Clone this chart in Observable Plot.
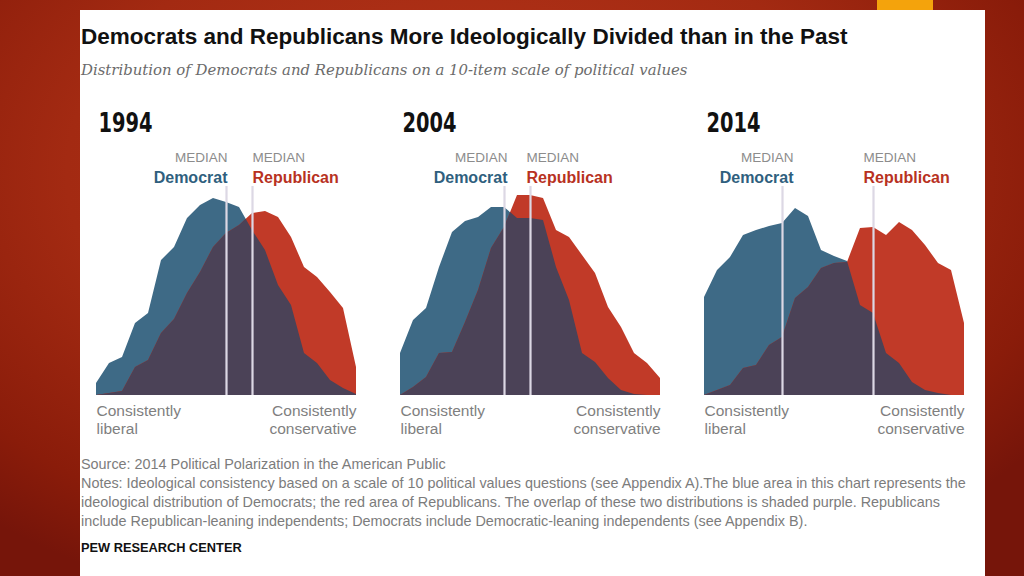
<!DOCTYPE html>
<html>
<head>
<meta charset="utf-8">
<script src="https://cdn.jsdelivr.net/npm/d3@7"></script>
<script src="https://cdn.jsdelivr.net/npm/@observablehq/plot@0.6"></script>
<style>
  html, body { margin: 0; padding: 0; }
  body {
    width: 1024px; height: 576px; overflow: hidden; position: relative;
    background: radial-gradient(ellipse 70% 80% at 45% 30%, #b9361b 0%, #a32a12 55%, #8a1c0a 85%, #76150a 100%);
    font-family: "Liberation Sans", Arial, sans-serif;
  }
  #orange { position: absolute; left: 877px; top: 0; width: 56px; height: 10px; background: #f4a30c; }
  #panel { position: absolute; left: 80px; top: 10px; width: 905px; height: 580px; background: #fff; }
  .abs { position: absolute; white-space: nowrap; }
  #title { left: 81px; top: 23px; font-size: 22.5px; line-height: 28px; font-weight: bold; color: #111; }
  #subtitle { left: 81px; top: 59px; font-family: "DejaVu Serif", Georgia, serif; font-style: italic; font-size: 14.9px; line-height: 22px; color: #6b6b6b; }
  #chart { position: absolute; left: 0; top: 100px; }
  #notes { left: 81px; top: 455px; font-size: 14.4px; line-height: 19px; color: #7c7c7c; }
  #pew { left: 81px; top: 540px; font-size: 12.8px; line-height: 16px; font-weight: bold; color: #111; }
</style>
</head>
<body>
<div id="orange"></div>
<div id="panel"></div>
<div id="title" class="abs">Democrats and Republicans More Ideologically Divided than in the Past</div>
<div id="subtitle" class="abs">Distribution of Democrats and Republicans on a 10-item scale of political values</div>
<div id="chart"></div>
<div id="notes" class="abs">Source: 2014 Political Polarization in the American Public<br>Notes: Ideological consistency based on a scale of 10 political values questions (see Appendix A).The blue area in this chart represents the<br>ideological distribution of Democrats; the red area of Republicans. The overlap of these two distributions is shaded purple. Republicans<br>include Republican-leaning independents; Democrats include Democratic-leaning independents (see Appendix B).</div>
<div id="pew" class="abs">PEW RESEARCH CENTER</div>
<script>
// ---- Data (relative share at each scale point) ----
const years = ["1994", "2004", "2014"];
const scale = [-10,-9,-8,-7,-6,-5,-4,-3,-2,-1,0,1,2,3,4,5,6,7,8,9,10];

const dem1994 = [12,32,38,72,82,135,148,177,190,197,193,188,165,145,110,90,42,32,15,7,1];
const rep1994 = [0,2,4,28,35,62,76,102,123,148,162,170,182,184,178,158,128,118,103,87,28];

const dem2004 = [42,75,87,128,163,174,178,188,188,177,177,175,128,95,42,33,17,5,1,0,0];
const rep2004 = [0,8,18,42,43,73,105,147,168,200,200,197,165,158,140,122,88,68,42,32,17];

const dem2014 = [98,125,138,160,165,169,172,187,179,145,139,134,90,82,42,32,13,5,2,0,0];
const rep2014 = [0,5,10,27,30,50,58,97,108,127,132,133,167,168,160,173,165,150,132,125,72];

const medianDem = [0, -2, -4];
const medianRep = [2, 0, 3];

const endLabels = ["Consistently\nliberal", "Consistently\nconservative"];

// ---- Build tables ----
const series = {"1994": [dem1994, rep1994], "2004": [dem2004, rep2004], "2014": [dem2014, rep2014]};
const rows = [];
const overlap = [];
for (const yr of years) {
  const [d, r] = series[yr];
  scale.forEach((x, i) => rows.push({year: yr, x, dem: d[i], rep: r[i]}));
  // overlap = pointwise minimum, with crossing points inserted
  for (let i = 0; i < scale.length; i++) {
    overlap.push({year: yr, x: scale[i], v: Math.min(d[i], r[i])});
    if (i < scale.length - 1) {
      const a = d[i] - r[i], b = d[i + 1] - r[i + 1];
      if (a * b < 0) {
        const t = a / (a - b);
        overlap.push({year: yr, x: scale[i] + t, v: d[i] + t * (d[i + 1] - d[i])});
      }
    }
  }
}
const medians = years.flatMap((yr, i) => [
  {year: yr, party: "Democrat", x: medianDem[i]},
  {year: yr, party: "Republican", x: medianRep[i]}
]);

// label placement offsets (px) relative to the median line, per panel
const labelShift = {"1994": [1, 0], "2004": [3, -4], "2014": [11, -10]};

const blue = "#3e6a86", red = "#c13a28", purple = "#4b4257";

const marks = [
  Plot.areaY(rows, {x: "x", y: "dem", fx: "year", fill: blue, curve: "linear"}),
  Plot.areaY(rows, {x: "x", y: "rep", fx: "year", fill: red, curve: "linear"}),
  Plot.areaY(overlap, {x: "x", y: "v", fx: "year", fill: purple, curve: "linear"}),
  Plot.ruleX(medians, {x: "x", fx: "year", y1: 0, y2: 209, stroke: "#dcd8e4", strokeWidth: 2.2}),
  Plot.text(years, {fx: d => d, text: d => d, frameAnchor: "top-left", dy: 12, textAnchor: "start", dx: 2,
    fontFamily: "DejaVu Sans Condensed, DejaVu Sans, sans-serif", fontWeight: "bold", fontSize: 27, fill: "#111", className: "yearlab"}),
  Plot.text(years.map(y => ({year: y})), {fx: "year", text: () => endLabels[0], frameAnchor: "bottom-left", dy: 7,
    textAnchor: "start", lineAnchor: "top", lineHeight: 1.2, fontSize: 15.5, fill: "#7f7f7f"}),
  Plot.text(years.map(y => ({year: y})), {fx: "year", text: () => endLabels[1], frameAnchor: "bottom-right", dy: 7,
    textAnchor: "end", lineAnchor: "top", lineHeight: 1.2, fontSize: 15.5, fill: "#7f7f7f"})
];
for (const yr of years) {
  const [sd, sr] = labelShift[yr];
  const dm = medians.filter(m => m.year === yr && m.party === "Democrat");
  const rm = medians.filter(m => m.year === yr && m.party === "Republican");
  marks.push(
    Plot.text(dm, {x: "x", fx: "year", text: () => "MEDIAN", frameAnchor: "top", dy: 52, dx: sd, textAnchor: "end", fontSize: 13.5, fill: "#8c8c8c"}),
    Plot.text(dm, {x: "x", fx: "year", text: "party", frameAnchor: "top", dy: 71, dx: sd, textAnchor: "end", fontSize: 16, fontWeight: "bold", fill: "#2f5f7e"}),
    Plot.text(rm, {x: "x", fx: "year", text: () => "MEDIAN", frameAnchor: "top", dy: 52, dx: sr, textAnchor: "start", fontSize: 13.5, fill: "#8c8c8c"}),
    Plot.text(rm, {x: "x", fx: "year", text: "party", frameAnchor: "top", dy: 71, dx: sr, textAnchor: "start", fontSize: 16, fontWeight: "bold", fill: "#b8321f"})
  );
}

const chart = Plot.plot({
  width: 1024,
  height: 345,
  marginLeft: 96,
  marginRight: 60,
  marginTop: 0,
  marginBottom: 50,
  style: {background: "transparent", fontFamily: "Liberation Sans, Arial, sans-serif"},
  fx: {domain: years, paddingInner: 0.145, paddingOuter: 0, axis: null},
  x: {domain: [-10, 10], axis: null},
  y: {domain: [0, 295], axis: null},
  marks
});
document.getElementById("chart").appendChild(chart);
d3.select(chart).selectAll(".yearlab text").attr("textLength", 54).attr("lengthAdjust", "spacingAndGlyphs");
</script>
</body>
</html>
